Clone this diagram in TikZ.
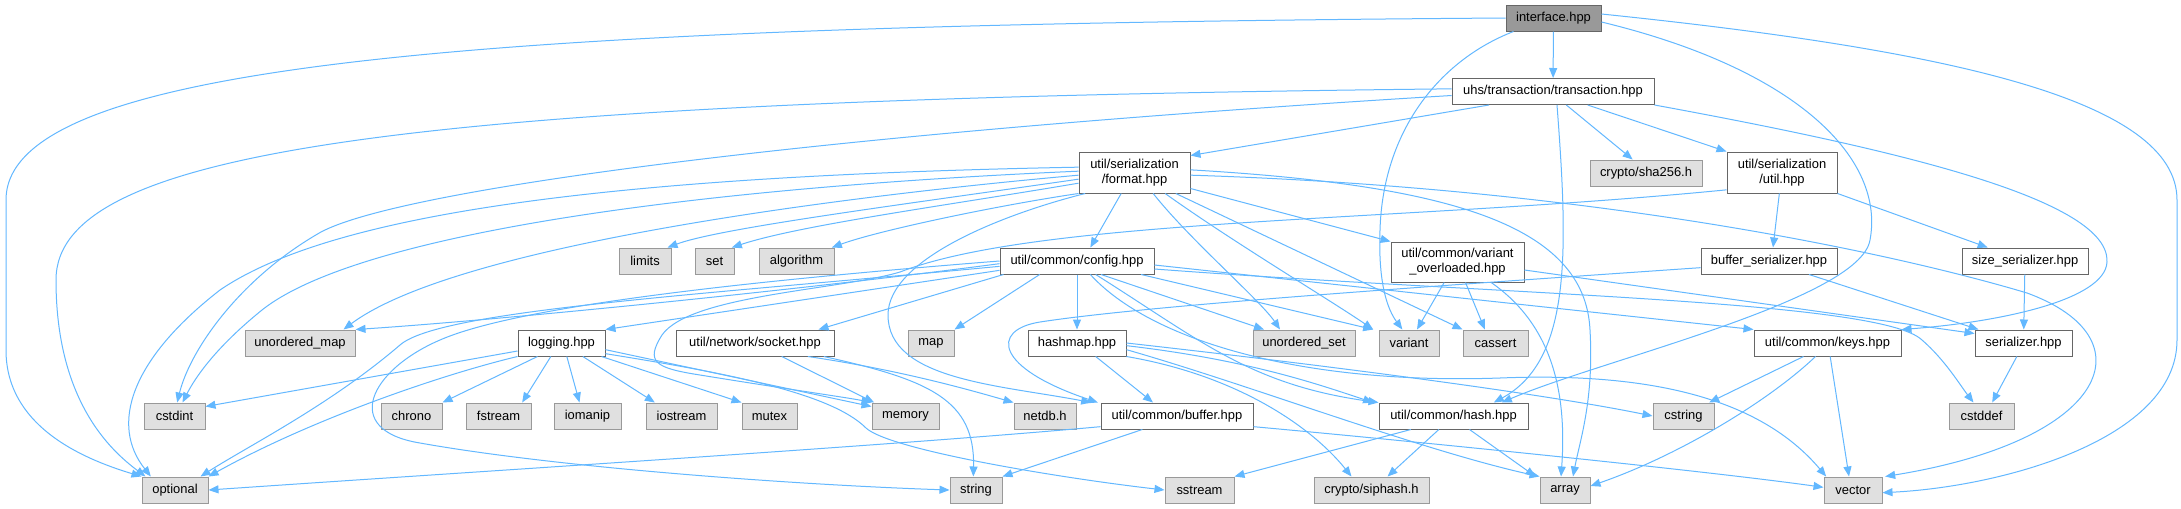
\documentclass[tikz,border=0pt]{standalone}
\usepackage{fontspec}
\setmainfont{Liberation Sans}
\usepackage{xcolor}
\usepackage{tikz}
\usetikzlibrary{arrows.meta}
\definecolor{incblue}{HTML}{63B8FF}
\definecolor{docgray}{HTML}{666666}
\definecolor{sysfill}{HTML}{E0E0E0}
\definecolor{sysgray}{HTML}{999999}

\begin{document}
\begin{tikzpicture}[x=0.75pt, y=-0.75pt,
  docnode/.style={draw=docgray, fill=white, line width=0.75pt, inner sep=0pt, minimum height=19.5pt, align=center, font=\fontsize{9.7}{11.3}\selectfont},
  sysnode/.style={docnode, draw=sysgray, fill=sysfill},
  rootnode/.style={docnode, fill=sysgray},
  boxw/.style={minimum width=#1*0.75pt},
  twoline/.style={minimum height=30.75pt},
  incl/.style={draw=incblue, line width=0.75pt, -{Triangle[length=7.5pt,width=6pt]}}
]
  \fill[white] (0,0) rectangle (2181,508);
  \useasboundingbox (0,0) rectangle (2181,508);

  \node[rootnode, boxw=95] (iface) at (1553.5,18) {interface.hpp};
  \node[docnode, boxw=202] (txn) at (1553,91.5) {uhs/transaction/transaction.hpp};

  \node[docnode, boxw=111, twoline] (fmt) at (1134.5,172.5) {util/serialization\\/format.hpp};
  \node[sysnode, boxw=112] (sha) at (1646,173) {crypto/sha256.h};
  \node[docnode, boxw=110, twoline] (serutil) at (1782,172.5) {util/serialization\\/util.hpp};

  \node[sysnode, boxw=52] (limits) at (645,261) {limits};
  \node[sysnode, boxw=39] (stdset) at (714.5,261) {set};
  \node[sysnode, boxw=75] (algo) at (796.5,261) {algorithm};
  \node[docnode, boxw=154] (config) at (1077,261) {util/common/config.hpp};
  \node[docnode, boxw=133, minimum height=30pt] (varov) at (1457.5,262) {util/common/variant\\\_overloaded.hpp};
  \node[docnode, boxw=136] (bufser) at (1769,261) {buffer\_serializer.hpp};
  \node[docnode, boxw=126] (sizeser) at (2025,261) {size\_serializer.hpp};

  \node[sysnode, boxw=110] (umap) at (300,343) {unordered\_map};
  \node[docnode, boxw=87] (logging) at (561.5,343) {logging.hpp};
  \node[docnode, boxw=158] (socket) at (755,343) {util/network/socket.hpp};
  \node[sysnode, boxw=46] (map) at (931,343) {map};
  \node[docnode, boxw=98] (hashmap) at (1077,343) {hashmap.hpp};
  \node[sysnode, boxw=102] (uset) at (1304,343) {unordered\_set};
  \node[sysnode, boxw=60] (variant) at (1409,343) {variant};
  \node[sysnode, boxw=65] (cassert) at (1495.5,343) {cassert};
  \node[docnode, boxw=147] (keys) at (1827.5,343) {util/common/keys.hpp};
  \node[docnode, boxw=97] (serializer) at (2023.5,343) {serializer.hpp};

  \node[sysnode, boxw=61] (cstdint) at (174.5,416) {cstdint};
  \node[sysnode, boxw=61] (chrono) at (411.5,416) {chrono};
  \node[sysnode, boxw=65] (fstream) at (498.5,416) {fstream};
  \node[sysnode, boxw=67] (iomanip) at (587.5,416) {iomanip};
  \node[sysnode, boxw=71] (iostream) at (681.5,416) {iostream};
  \node[sysnode, boxw=55] (mutex) at (769.5,416) {mutex};
  \node[sysnode, boxw=67] (memory) at (905.5,416) {memory};
  \node[sysnode, boxw=62] (netdb) at (1045,416) {netdb.h};
  \node[docnode, boxw=152] (buffer) at (1177,416) {util/common/buffer.hpp};
  \node[docnode, boxw=149] (hash) at (1453.5,416) {util/common/hash.hpp};
  \node[sysnode, boxw=61] (cstring) at (1683.5,416) {cstring};
  \node[sysnode, boxw=65] (cstddef) at (1981.5,416) {cstddef};

  \node[sysnode, boxw=66] (optional) at (175,490) {optional};
  \node[sysnode, boxw=52] (string) at (976,490) {string};
  \node[sysnode, boxw=69] (sstream) at (1199.5,490) {sstream};
  \node[sysnode, boxw=115] (siphash) at (1371.5,490) {crypto/siphash.h};
  \node[sysnode, boxw=50] (array) at (1565,490) {array};
  \node[sysnode, boxw=58] (vector) at (1853,490) {vector};

  % interface.hpp
  \draw[incl] (iface) -- (txn);
  \draw[incl] (iface.west) .. controls (500,25) and (6,60) .. (6,200) -- (6,350) .. controls (6,425) and (80,458) .. (optional.north west);
  \draw[incl] ([xshift=-30pt]iface.south) .. controls (1440,60) and (1383,130) .. (1380,230) .. controls (1378,285) and (1388,310) .. ([xshift=-5pt]variant.north);
  \draw[incl] ([yshift=-3pt]iface.east) .. controls (1800,70) and (1885,160) .. (1870,240) .. controls (1860,300) and (1600,360) .. ([xshift=-20pt]hash.north east);
  \draw[incl] ([yshift=3pt]iface.east) .. controls (1950,50) and (2177,100) .. (2177,200) -- (2177,340) .. controls (2177,440) and (2000,487) .. ([yshift=-2pt]vector.east);

  % transaction.hpp
  \draw[incl] ([xshift=-48pt]txn.south) -- ([yshift=-3pt]fmt.north east);
  \draw[incl] ([xshift=10pt]txn.south) -- ([xshift=-10pt]sha.north);
  \draw[incl] ([xshift=26pt]txn.south) -- (serutil.north west);
  \draw[incl] ([xshift=3pt]txn.south) .. controls (1568,250) and (1572,360) .. ([xshift=-26pt]hash.north east);
  \draw[incl] (txn.south east) .. controls (1900,150) and (2110,200) .. (2107,262) .. controls (2105,300) and (2000,322) .. (keys.north east);
  \draw[incl] ([yshift=2pt]txn.west) .. controls (400,100) and (56,150) .. (56,280) .. controls (56,400) and (110,450) .. ([xshift=3pt]optional.north west);
  \draw[incl] ([yshift=-3pt]txn.west) .. controls (800,135) and (400,190) .. (321,232) .. controls (240,278) and (190,350) .. ([xshift=2pt]cstdint.north);

  % format.hpp
  \draw[incl] ([yshift=4pt]fmt.west) .. controls (600,176) and (330,215) .. (220,290) .. controls (130,360) and (110,425) .. ([xshift=7pt]optional.north west);
  \draw[incl] ([yshift=1pt]fmt.west) .. controls (650,190) and (350,240) .. (262,310) .. controls (215,348) and (195,378) .. ([xshift=6pt]cstdint.north);
  \draw[incl] ([yshift=-2pt]fmt.west) .. controls (800,200) and (450,250) .. ([xshift=-9pt]umap.north east);
  \draw[incl] ([yshift=-5pt]fmt.west) .. controls (900,205) and (720,228) .. ([xshift=-3pt]limits.north east);
  \draw[incl] ([yshift=-8pt]fmt.west) .. controls (950,205) and (800,225) .. ([xshift=-2pt]stdset.north east);
  \draw[incl] (fmt.south west) .. controls (1000,205) and (880,230) .. ([xshift=-2pt]algo.north east);
  \draw[incl] ([xshift=5pt]fmt.south west) .. controls (1000,215) and (888,260) .. (888,315) .. controls (888,380) and (1000,385) .. ([xshift=-7pt]buffer.north west);
  \draw[incl] ([xshift=-10pt]fmt.south) -- ([xshift=10pt]config.north);
  \draw[incl] ([xshift=14pt]fmt.south) .. controls (1190,240) and (1260,300) .. ([xshift=-18pt]uset.north);
  \draw[incl] ([xshift=23pt]fmt.south) .. controls (1230,240) and (1330,300) .. ([xshift=-4pt]variant.north west);
  \draw[incl] ([xshift=31pt]fmt.south) -- (cassert.north west);
  \draw[incl] ([yshift=-12pt]fmt.east) -- (varov.north west);
  \draw[incl] ([yshift=2pt]fmt.east) .. controls (1450,185) and (1585,225) .. (1590,330) .. controls (1594,400) and (1580,440) .. ([xshift=6pt]array.north);
  \draw[incl] ([yshift=-2pt]fmt.east) .. controls (1600,188) and (1900,255) .. (2027,293) .. controls (2150,338) and (2110,440) .. ([xshift=2pt]vector.north east);

  % util.hpp
  \draw[incl] ([xshift=-2pt]serutil.south) -- ([xshift=3pt]bufser.north);
  \draw[incl] (serutil.south east) -- ([xshift=-28pt]sizeser.north);
  \draw[incl] ([yshift=-13pt]serutil.west) .. controls (1400,222) and (1040,218) .. (900,272) .. controls (840,290) and (690,295) .. (662,335) .. controls (645,362) and (655,368) .. (700,375) .. controls (780,388) and (850,398) .. (memory.north west);

  % config.hpp
  \draw[incl] ([yshift=-2pt]config.west) .. controls (800,290) and (500,320) .. (umap.north east);
  \draw[incl] ([yshift=-4pt]config.west) .. controls (700,295) and (440,310) .. (400,345) .. controls (330,405) and (250,445) .. ([xshift=-6pt]optional.north east);
  \draw[incl] (config.west) .. controls (760,280) and (520,305) .. (440,340) .. controls (370,370) and (340,430) .. (420,443) .. controls (560,468) and (800,485) .. (string.west);
  \draw[incl] ([yshift=-7pt]config.west) -- (logging.north east);
  \draw[incl] ([xshift=3pt]config.south west) -- ([xshift=-12pt]socket.north east);
  \draw[incl] ([xshift=-28pt]config.south) -- (map.north east);
  \draw[incl] (config.south) -- (hashmap.north);
  \draw[incl] ([xshift=10pt]config.south) .. controls (1150,340) and (1300,385) .. (1500,378) .. controls (1650,372) and (1760,398) .. ([xshift=2pt]vector.north west);
  \draw[incl] ([xshift=14pt]config.south) .. controls (1200,340) and (1250,385) .. (hash.north west);
  \draw[incl] ([xshift=18pt]config.south) -- ([xshift=-30pt]uset.north);
  \draw[incl] ([xshift=-10pt]config.south east) -- ([xshift=-4pt]variant.north west);
  \draw[incl] ([yshift=-3pt]config.east) -- (keys.north west);
  \draw[incl] ([yshift=-6pt]config.east) .. controls (1500,295) and (1880,300) .. (1922,340) .. controls (1945,360) and (1960,385) .. ([xshift=-6pt]cstddef.north);

  % variant_overloaded.hpp
  \draw[incl] ([xshift=-10pt]varov.south) -- ([xshift=6pt]variant.north);
  \draw[incl] ([xshift=6pt]varov.south) -- ([xshift=-8pt]cassert.north);
  \draw[incl] ([xshift=-25pt]varov.south east) .. controls (1545,320) and (1568,380) .. ([xshift=-3pt]array.north);
  \draw[incl] ([yshift=-6pt]varov.east) -- ([yshift=-3pt]serializer.north west);

  % serializers
  \draw[incl] ([xshift=30pt]bufser.south) -- ([xshift=3pt]serializer.north west);
  \draw[incl] ([yshift=-5pt]bufser.west) .. controls (1450,285) and (1150,305) .. (1040,322) .. controls (990,330) and (995,368) .. ([xshift=-2pt]buffer.north west);
  \draw[incl] (sizeser) -- (serializer);
  \draw[incl] ([xshift=-5pt]serializer.south) -- ([xshift=8pt]cstddef.north);

  % logging.hpp
  \draw[incl] ([yshift=-6pt]logging.west) -- ([yshift=-3pt]cstdint.north east);
  \draw[incl] (logging.south west) .. controls (440,375) and (310,420) .. (optional.north east);
  \draw[incl] ([xshift=-18pt]logging.south) -- (chrono.north east);
  \draw[incl] ([xshift=-8pt]logging.south) -- ([xshift=-7pt]fstream.north east);
  \draw[incl] ([xshift=4pt]logging.south) -- ([xshift=-6pt]iomanip.north);
  \draw[incl] ([xshift=16pt]logging.south) -- ([xshift=-20pt]iostream.north);
  \draw[incl] ([xshift=30pt]logging.south) -- (mutex.north west);
  \draw[incl] ([yshift=-5pt]logging.east) -- ([yshift=-3pt]memory.north west);
  \draw[incl] ([yshift=-8pt]logging.east) .. controls (720,372) and (830,392) .. (866,428) .. controls (890,450) and (1060,478) .. (sstream.west);

  % socket.hpp
  \draw[incl] ([xshift=20pt]socket.south) -- ([xshift=2pt]memory.north west);
  \draw[incl] ([xshift=-20pt]socket.south east) .. controls (900,370) and (970,390) .. (netdb.north west);
  \draw[incl] ([xshift=-8pt]socket.south east) .. controls (930,380) and (975,400) .. ([xshift=-2pt]string.north);

  % hashmap.hpp
  \draw[incl] ([xshift=14pt]hashmap.south) -- ([xshift=-18pt]buffer.north);
  \draw[incl] (hashmap.east) .. controls (1350,368) and (1550,395) .. (cstring.west);
  \draw[incl] ([yshift=-2pt]hashmap.east) .. controls (1250,360) and (1320,385) .. ([xshift=-4pt]hash.north west);
  \draw[incl] (hashmap.south east) .. controls (1235,375) and (1310,425) .. ([xshift=-15pt]siphash.north);
  \draw[incl] ([yshift=-5pt]hashmap.east) .. controls (1250,385) and (1420,450) .. (array.north west);

  % keys.hpp
  \draw[incl] ([xshift=-18pt]keys.south) -- ([xshift=-4pt]cstring.north east);
  \draw[incl] ([xshift=-9pt]keys.south) .. controls (1770,400) and (1680,455) .. ([yshift=3pt]array.east);
  \draw[incl] ([xshift=2pt]keys.south) -- ([xshift=-3pt]vector.north);

  % buffer.hpp
  \draw[incl] ([yshift=-8pt]buffer.west) .. controls (900,445) and (500,470) .. (optional.east);
  \draw[incl] ([xshift=-26pt]buffer.south) -- (string.north east);
  \draw[incl] ([yshift=-8pt]buffer.east) .. controls (1400,440) and (1700,470) .. ([yshift=2pt]vector.west);

  % hash.hpp
  \draw[incl] ([xshift=-32pt]hash.south) -- (sstream.north east);
  \draw[incl] ([xshift=-11pt]hash.south) -- ([xshift=12pt]siphash.north);
  \draw[incl] ([xshift=12pt]hash.south) -- ([xshift=-3pt]array.north west);
\end{tikzpicture}
\end{document}
